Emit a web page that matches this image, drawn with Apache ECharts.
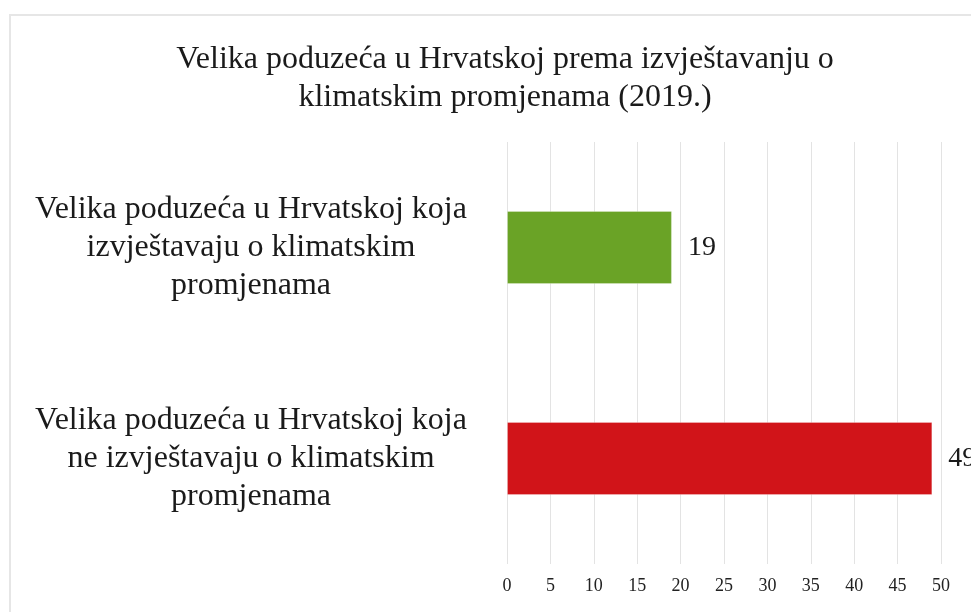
<!DOCTYPE html>
<html>
<head>
<meta charset="utf-8">
<script src="https://cdn.jsdelivr.net/npm/echarts@6/dist/echarts.min.js"></script>
<style>
  html, body { margin: 0; padding: 0; background: #ffffff; }
  #chart { width: 971px; height: 612px; }
</style>
</head>
<body>
<div id="chart"></div>
<script>
// Categories listed top to bottom
const categories = [
  'Velika poduzeća u Hrvatskoj koja\nizvještavaju o klimatskim\npromjenama',
  'Velika poduzeća u Hrvatskoj koja\nne izvještavaju o klimatskim\npromjenama'
];
const values = [19, 49];
const barColors = ['#6aa326', '#d11419'];
const axisMin = 0;
const axisMax = 50;
const axisStep = 5;

const serif = '"Liberation Serif", "DejaVu Serif", serif';

const chart = echarts.init(document.getElementById('chart'), null, { renderer: 'canvas' });

chart.setOption({
  backgroundColor: '#ffffff',
  animation: false,
  title: {
    text: 'Velika poduzeća u Hrvatskoj prema izvještavanju o\nklimatskim promjenama (2019.)',
    left: 500,
    top: 36,
    textAlign: 'center',
    textStyle: {
      fontFamily: serif,
      fontWeight: 'normal',
      fontSize: 32,
      lineHeight: 38,
      color: '#1a1a1a'
    }
  },
  graphic: [{
    type: 'rect',
    shape: { x: 10, y: 15, width: 980, height: 620 },
    style: { fill: 'none', stroke: '#e6e6e6', lineWidth: 2 },
    silent: true
  }],
  grid: {
    left: 507,
    right: 30,
    top: 142,
    bottom: 48,
    containLabel: false
  },
  xAxis: {
    type: 'value',
    min: axisMin,
    max: axisMax,
    interval: axisStep,
    axisLine: { show: false },
    axisTick: { show: false },
    splitLine: { show: true, lineStyle: { color: '#e3e3e3', width: 1 } },
    axisLabel: {
      margin: 13,
      fontFamily: serif,
      fontSize: 18,
      color: '#222222'
    }
  },
  yAxis: {
    type: 'category',
    data: categories,
    inverse: true,
    axisLine: { show: false },
    axisTick: { show: false },
    splitLine: { show: false },
    axisLabel: {
      margin: 256,
      align: 'center',
      fontFamily: serif,
      fontSize: 32,
      lineHeight: 38,
      color: '#1a1a1a'
    }
  },
  series: [{
    type: 'bar',
    data: values.map((v, i) => ({ value: v, itemStyle: { color: barColors[i] } })),
    barWidth: 73,
    itemStyle: { borderColor: 'rgba(255,255,255,0.25)', borderWidth: 1 },
    label: {
      show: true,
      position: 'right',
      distance: 16,
      fontFamily: serif,
      fontSize: 28,
      color: '#1a1a1a'
    }
  }]
});
</script>
</body>
</html>
